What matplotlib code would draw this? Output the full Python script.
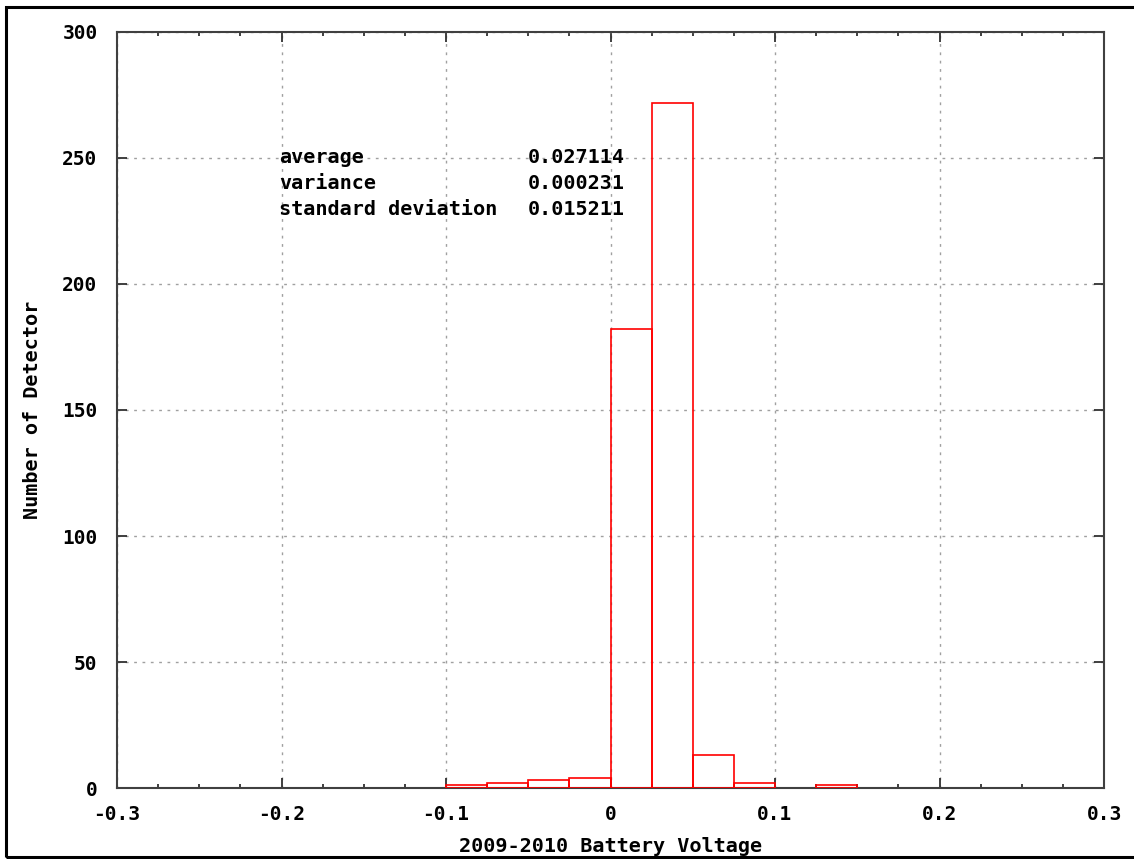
import numpy as np
import matplotlib.pyplot as plt
from matplotlib.ticker import MultipleLocator

# histogram data (bin width 0.025)
BIN_LEFT = [-0.100, -0.075, -0.050, -0.025, 0.000, 0.025, 0.050, 0.075, 0.100, 0.125]
COUNTS   = [1, 2, 3, 4, 182, 272, 13, 2, 0, 1]
BIN_W    = 0.025

STAT_NAMES  = ['average', 'variance', 'standard deviation']
STAT_VALUES = ['0.027114', '0.000231', '0.015211']

FONT = dict(family='DejaVu Sans Mono', weight='bold', size=14.5)

fig = plt.figure(figsize=(11.34, 8.59), dpi=100)
ax = fig.add_axes([117 / 1134, (859 - 788) / 859, (1104 - 117) / 1134, (788 - 32) / 859])

# outer frame of the picture (right edge runs off the image)
frame = plt.Rectangle((6 / 1134, 2 / 859), 1.0, (850) / 859, transform=fig.transFigure,
                      fill=False, edgecolor='black', linewidth=2.2, clip_on=False)
fig.add_artist(frame)

left = [l for l, c in zip(BIN_LEFT, COUNTS) if c > 0]
hts  = [c for c in COUNTS if c > 0]
ax.bar(left, hts, width=BIN_W, align='edge', fill=False,
       edgecolor='#ff0000', linewidth=1.2, zorder=3)

ax.set_xlim(-0.3, 0.3)
ax.set_ylim(0, 300)
ax.xaxis.set_minor_locator(MultipleLocator(0.025))
ax.yaxis.set_major_locator(MultipleLocator(50))
ax.set_xticks(np.arange(-0.3, 0.31, 0.1))
ax.set_xticklabels(['-0.3', '-0.2', '-0.1', '0', '0.1', '0.2', '0.3'])

ax.grid(True, which='major', color='#a0a0a0', linestyle=(0, (2, 4)), linewidth=1.0)
ax.tick_params(which='major', direction='in', length=7, width=1.3, color='#303030',
               top=True, right=True, labelsize=14)
ax.tick_params(which='minor', direction='in', length=3, width=1.3, color='#303030',
               top=True, bottom=True)
ax.tick_params(axis='y', which='minor', left=False, right=False)
ax.tick_params(axis='x', pad=12)
ax.tick_params(axis='y', pad=14)
for lab in ax.get_xticklabels() + ax.get_yticklabels():
    lab.set_fontfamily('DejaVu Sans Mono')
    lab.set_fontweight('bold')

for s in ax.spines.values():
    s.set_color('#404040')
    s.set_linewidth(1.5)

ax.set_xlabel('2009-2010 Battery Voltage', va='center', **FONT)
ax.set_ylabel('Number of Detector', va='center', **FONT)
ax.xaxis.set_label_coords(0.5, (788 - 846) / 756)
ax.yaxis.set_label_coords((33 - 117) / 987, 0.5)

# statistics block
for k, (name, val) in enumerate(zip(STAT_NAMES, STAT_VALUES)):
    y = 250 - k * 10.3
    ax.text(-0.2015, y, name, ha='left', va='center', zorder=4, **FONT)
    ax.text(-0.0505, y, val, ha='left', va='center', zorder=4, **FONT)

fig.savefig('out.png', dpi=100)
